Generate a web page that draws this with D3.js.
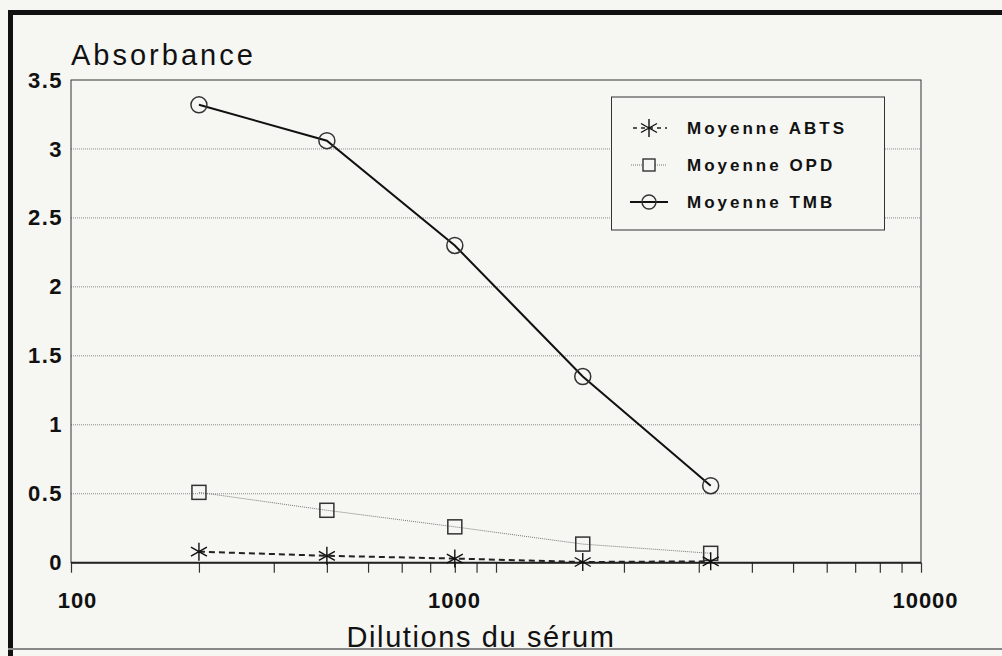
<!DOCTYPE html>
<html>
<head>
<meta charset="utf-8">
<script src="https://cdn.jsdelivr.net/npm/d3@7"></script>
<style>
  html, body { margin: 0; padding: 0; background: #f6f6f2; }
  svg { display: block; }
  text { font-family: "Liberation Sans", Arial, Helvetica, sans-serif; fill: #111; }
</style>
</head>
<body>
<svg id="chart" width="1002" height="656"></svg>
<script>
// ---- data ----
const dilutions = [200, 400, 800, 1600, 3200];
const abts = [0.08, 0.05, 0.03, 0.005, 0.01];
const opd = [0.51, 0.38, 0.26, 0.135, 0.068];
const tmb = [3.32, 3.06, 2.30, 1.35, 0.558];
const seriesNames = ["Moyenne ABTS", "Moyenne OPD", "Moyenne TMB"];
const yTickValues = [0, 0.5, 1, 1.5, 2, 2.5, 3, 3.5];
const yTickLabels = ["0", "0.5", "1", "1.5", "2", "2.5", "3", "3.5"];
const xLabelValues = [100, 1000, 10000];
const xLabelTexts = ["100", "1000", "10000"];
const yTitle = "Absorbance";
const xTitle = "Dilutions du sérum";

(function () {
// ---- layout ----
const svg = d3.select("#chart");
const W = 1002, H = 656;
const pL = 71, pR = 921, pT = 80, pB = 562.7;

svg.append("rect").attr("width", W).attr("height", H).attr("fill", "#f6f6f2");
// page frame
svg.append("rect").attr("x", 8).attr("y", 10).attr("width", W - 8).attr("height", 5).attr("fill", "#111");
svg.append("rect").attr("x", 8).attr("y", 10).attr("width", 5).attr("height", H - 10).attr("fill", "#111");
svg.append("rect").attr("x", 8).attr("y", 648).attr("width", W - 8).attr("height", 2).attr("fill", "#888");

const x = d3.scaleLog().domain([100, 10000]).range([pL, pR]);
const y = d3.scaleLinear().domain([0, 3.5]).range([pB, pT]);

// gridlines
svg.append("g").selectAll("line")
  .data(yTickValues.filter(v => v > 0 && v < 3.5))
  .join("line")
  .attr("x1", pL).attr("x2", pR)
  .attr("y1", d => y(d)).attr("y2", d => y(d))
  .attr("stroke", "#8a8a8a").attr("stroke-width", 1).attr("stroke-dasharray", "1,1");

// plot frame
svg.append("rect").attr("x", pL).attr("y", pT)
  .attr("width", pR - pL).attr("height", pB - pT)
  .attr("fill", "none").attr("stroke", "#333").attr("stroke-width", 1);

// x axis ticks
const xTicks = [];
[100, 1000].forEach(b => { for (let k = 1; k <= 9; k++) xTicks.push(b * k); });
xTicks.push(10000);
const xAxis = d3.axisBottom(x).tickValues(xTicks).tickSize(10).tickPadding(20)
  .tickFormat(d => { const i = xLabelValues.indexOf(d); return i >= 0 ? xLabelTexts[i] : ""; });
const gx = svg.append("g").attr("transform", `translate(0,${pB})`).call(xAxis);
gx.select(".domain").remove();
gx.selectAll(".tick line").attr("stroke", "#333").attr("stroke-width", 1.2);
gx.selectAll(".tick text").attr("font-size", 22).attr("font-weight", "bold")
  .attr("font-family", "Liberation Sans, Arial, sans-serif").attr("fill", "#111")
  .style("letter-spacing", "1px")
  .attr("dx", d => d === 1000 ? -42 : (d === 100 ? 6 : 4));

// zero line
svg.append("line").attr("x1", pL).attr("x2", pR).attr("y1", y(0)).attr("y2", y(0))
  .attr("stroke", "#222").attr("stroke-width", 2);

// y axis labels
const yAxis = d3.axisLeft(y).tickValues(yTickValues).tickSize(0).tickPadding(8)
  .tickFormat((d, i) => yTickLabels[i]);
const gy = svg.append("g").attr("transform", `translate(${pL},0)`).call(yAxis);
gy.select(".domain").remove();
gy.selectAll(".tick text").attr("font-size", 22).attr("font-weight", "bold")
  .attr("font-family", "Liberation Sans, Arial, sans-serif").attr("fill", "#111")
  .style("letter-spacing", "1.5px");

// titles
svg.append("text").attr("x", pL).attr("y", 65).attr("font-size", 29)
  .style("letter-spacing", "3px").text(yTitle);
svg.append("text").attr("x", 481).attr("y", 647).attr("text-anchor", "middle")
  .attr("font-size", 29).style("letter-spacing", "1.6px").text(xTitle);

// series
const pts = vals => dilutions.map((d, i) => [x(d), y(vals[i])]);
const line = d3.line();

svg.append("path").attr("d", line(pts(opd))).attr("fill", "none")
  .attr("stroke", "#777").attr("stroke-width", 1).attr("stroke-dasharray", "1,1");
svg.append("path").attr("d", line(pts(abts))).attr("fill", "none")
  .attr("stroke", "#222").attr("stroke-width", 2).attr("stroke-dasharray", "6,4");
svg.append("path").attr("d", line(pts(tmb))).attr("fill", "none")
  .attr("stroke", "#111").attr("stroke-width", 2);

const starPath = "M0,-9V9M-8,-4.5L8,4.5M-8,4.5L8,-4.5";
function drawStar(g, cx, cy) {
  g.append("path").attr("d", starPath).attr("transform", `translate(${cx},${cy})`)
    .attr("stroke", "#111").attr("stroke-width", 1.4).attr("fill", "none");
}
function drawSquare(g, cx, cy) {
  g.append("rect").attr("x", cx - 7).attr("y", cy - 7).attr("width", 14).attr("height", 14)
    .attr("fill", "none").attr("stroke", "#333").attr("stroke-width", 1.5);
}
function drawCircle(g, cx, cy) {
  g.append("circle").attr("cx", cx).attr("cy", cy).attr("r", 8)
    .attr("fill", "none").attr("stroke", "#333").attr("stroke-width", 1.5);
}
const mg = svg.append("g");
pts(opd).forEach(p => drawSquare(mg, p[0], p[1]));
pts(abts).forEach(p => drawStar(mg, p[0], p[1]));
pts(tmb).forEach(p => drawCircle(mg, p[0], p[1]));

// legend
const lg = svg.append("g");
lg.append("rect").attr("x", 611.5).attr("y", 97).attr("width", 273).attr("height", 133)
  .attr("fill", "#f6f6f2").attr("stroke", "#333").attr("stroke-width", 1);
const rowsY = [128, 165, 202];
const symX = 649;
lg.append("line").attr("x1", 633).attr("x2", 667).attr("y1", rowsY[0]).attr("y2", rowsY[0])
  .attr("stroke", "#222").attr("stroke-width", 1.5).attr("stroke-dasharray", "4,4");
drawStar(lg, symX, rowsY[0]);
lg.append("line").attr("x1", 631).attr("x2", 667).attr("y1", rowsY[1]).attr("y2", rowsY[1])
  .attr("stroke", "#777").attr("stroke-width", 1).attr("stroke-dasharray", "1,1");
lg.append("rect").attr("x", symX - 6).attr("y", rowsY[1] - 6).attr("width", 12).attr("height", 12)
  .attr("fill", "#f6f6f2").attr("stroke", "#333").attr("stroke-width", 1.4);
lg.append("line").attr("x1", 630).attr("x2", 668).attr("y1", rowsY[2]).attr("y2", rowsY[2])
  .attr("stroke", "#111").attr("stroke-width", 2);
lg.append("circle").attr("cx", symX).attr("cy", rowsY[2]).attr("r", 7)
  .attr("fill", "none").attr("stroke", "#333").attr("stroke-width", 1.4);

lg.selectAll("text.leg").data(seriesNames).join("text").attr("class", "leg")
  .attr("x", 687).attr("y", (d, i) => rowsY[i]).attr("dy", "0.36em")
  .attr("font-size", 17).attr("font-weight", "bold").style("letter-spacing", "3px")
  .text(d => d);
})();
</script>
</body>
</html>
